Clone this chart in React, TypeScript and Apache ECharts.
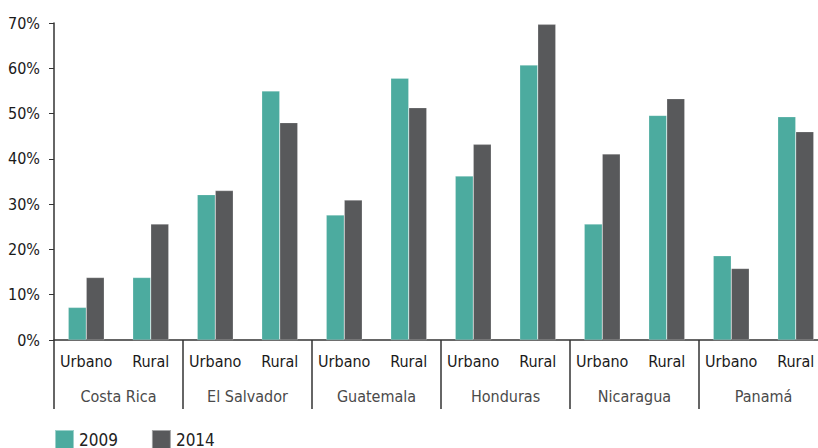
import React, { useEffect, useRef } from "react";
import * as echarts from "echarts";

const areas = ["Urbano", "Rural", "Urbano", "Rural", "Urbano", "Rural", "Urbano", "Rural", "Urbano", "Rural", "Urbano", "Rural"];
const countries = ["Costa Rica", "El Salvador", "Guatemala", "Honduras", "Nicaragua", "Panamá"];
const v2009 = [7.2, 13.8, 32.1, 55.0, 27.6, 57.8, 36.2, 60.7, 25.6, 49.6, 18.6, 49.3];
const v2014 = [13.8, 25.6, 33.0, 48.0, 30.9, 51.3, 43.2, 69.7, 41.1, 53.3, 15.8, 46.0];
const yTicks = [0, 10, 20, 30, 40, 50, 60, 70];

const FONT = "'DejaVu Sans Condensed', 'Liberation Sans Narrow', sans-serif";

export default function App() {
  const ref = useRef<HTMLDivElement>(null);
  useEffect(() => {
    if (!ref.current) return;
    const chart = echarts.init(ref.current, undefined, { renderer: "svg" });
    chart.setOption({
      animation: false,
      textStyle: { fontFamily: FONT },
      grid: { left: 54, top: 23, width: 774, bottom: 108, containLabel: false, outerBoundsMode: "none" },
      legend: {
        left: 54,
        top: 429,
        padding: 0,
        itemWidth: 19,
        itemHeight: 19,
        itemGap: 33,
        icon: "rect",
        textStyle: { fontFamily: FONT, fontSize: 17, color: "#222" },
        data: ["2009", "2014"],
      },
      xAxis: [
        {
          type: "category",
          data: areas,
          gridIndex: 0,
          position: "bottom",
          axisLine: { show: true, lineStyle: { color: "#333", width: 1.5 } },
          axisTick: { show: false },
          axisLabel: { interval: 0, margin: 13, fontSize: 16, color: "#1a1a1a", fontFamily: FONT },
        },
        {
          type: "category",
          data: countries,
          gridIndex: 0,
          position: "bottom",
          axisLine: { show: false },
          axisTick: { show: true, length: 69, lineStyle: { color: "#333", width: 1.5 } },
          axisLabel: { interval: 0, margin: 48, fontSize: 16, color: "#4a4a4a", fontFamily: FONT },
        },
      ],
      yAxis: {
        type: "value",
        min: 0,
        max: 70,
        interval: 10,
        axisLine: { show: true, lineStyle: { color: "#333", width: 1.5 } },
        axisTick: { show: true, length: 5, lineStyle: { color: "#333" } },
        splitLine: { show: false },
        axisLabel: {
          margin: 14,
          fontSize: 16,
          color: "#1a1a1a",
          fontFamily: FONT,
          formatter: (v: number) => (yTicks.includes(v) ? v + "%" : ""),
        },
      },
      series: [
        {
          name: "2009",
          type: "bar",
          data: v2009,
          barWidth: 18,
          barGap: "0%",
          itemStyle: { color: "#4CAB9F", borderColor: "rgba(255,255,255,0.45)", borderWidth: 0.5 },
        },
        {
          name: "2014",
          type: "bar",
          data: v2014,
          barWidth: 18,
          barGap: "0%",
          itemStyle: { color: "#58595B", borderColor: "rgba(255,255,255,0.45)", borderWidth: 0.5 },
        },
      ],
    });
    return () => chart.dispose();
  }, []);
  return <div ref={ref} style={{ width: 818, height: 448, position: "absolute", left: 0, top: 0 }} />;
}
